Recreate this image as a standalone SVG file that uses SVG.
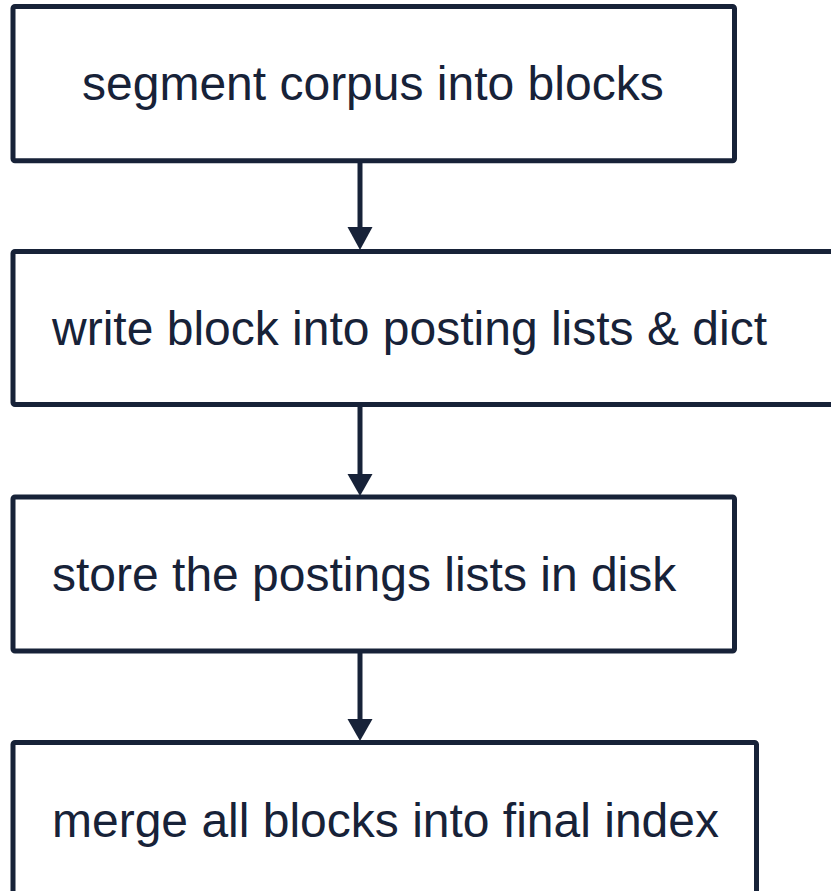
<svg xmlns="http://www.w3.org/2000/svg" width="831" height="891" viewBox="0 0 831 891">
  <style>
    .box { fill: #ffffff; stroke: #172238; stroke-width: 5; }
    .label { font-family: "Liberation Sans", Arial, sans-serif; font-size: 48px; fill: #172238; }
    .edge { stroke: #172238; stroke-width: 5; fill: none; }
    .head { fill: #172238; }
  </style>
  <rect width="831" height="891" fill="#ffffff"/>

  <g id="connectors">
    <line class="edge" x1="360" y1="161" x2="360" y2="228"/>
    <polygon class="head" points="347.5,227 372.5,227 360,250"/>
    <line class="edge" x1="360" y1="405" x2="360" y2="475"/>
    <polygon class="head" points="347.5,474 372.5,474 360,496"/>
    <line class="edge" x1="360" y1="651" x2="360" y2="720"/>
    <polygon class="head" points="347.5,719 372.5,719 360,741"/>
  </g>

  <g id="segment">
    <rect class="box" x="13" y="6.5" width="721.5" height="154.3" rx="2"/>
    <text class="label" x="82" y="100">segment corpus into blocks</text>
  </g>

  <g id="write">
    <rect class="box" x="13" y="251.5" width="825" height="153" rx="2"/>
    <text class="label" x="52" y="345">write block into posting lists &amp; dict</text>
  </g>

  <g id="store">
    <rect class="box" x="13" y="497" width="721.5" height="154" rx="2"/>
    <text class="label" x="52" y="591">store the postings lists in disk</text>
  </g>

  <g id="merge">
    <rect class="box" x="13" y="742.5" width="743.5" height="154.3" rx="2"/>
    <text class="label" x="52" y="836.5">merge all blocks into final index</text>
  </g>
</svg>
